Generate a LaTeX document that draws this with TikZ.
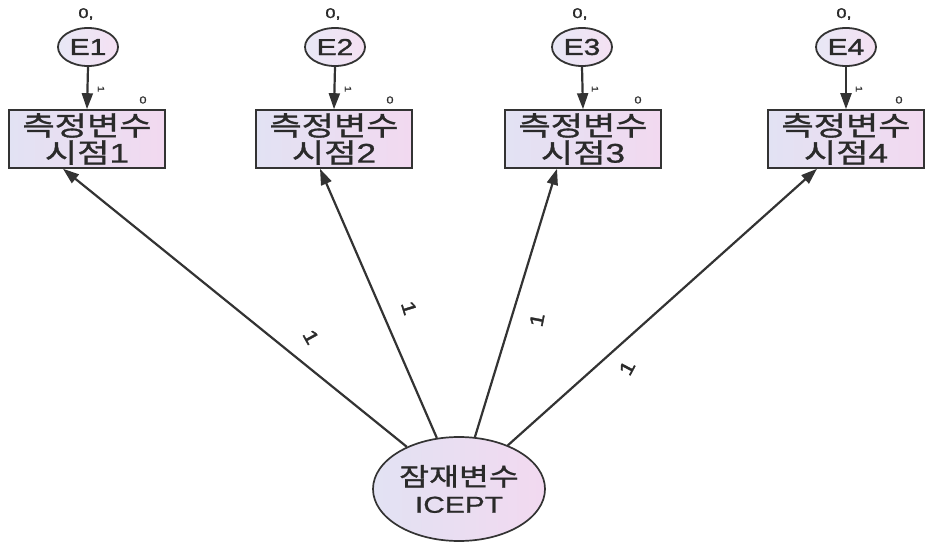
\documentclass[tikz,border=0pt]{standalone}
\usepackage{fontspec}
\usetikzlibrary{arrows.meta,shapes.geometric}
\newfontfamily\krfont{Noto Sans CJK KR}[FakeStretch=1.3,FakeBold=1.2]
\newfontfamily\latfont{Liberation Sans}[FakeStretch=1.3,FakeBold=0.8]
\newfontfamily\latbold{Liberation Sans}[FakeStretch=1.3,FakeBold=1.6]
\definecolor{edgegray}{HTML}{333333}
\definecolor{ink}{HTML}{2A2A2A}
\definecolor{fillL}{HTML}{E2E2F3}
\definecolor{fillR}{HTML}{F2D9F0}
\begin{document}
\begin{tikzpicture}[x=1pt,y=-1pt,
  obsbox/.style={rectangle, draw=edgegray, line width=1.6pt,
    left color=fillL, right color=fillR,
    minimum width=156pt, minimum height=58pt, inner sep=0pt,
    align=center, text=ink, font=\fontsize{27}{27}\selectfont\krfont},
  errnode/.style={ellipse, draw=edgegray, line width=1.8pt,
    left color=fillL!80!white, right color=fillR!80!white,
    minimum width=60pt, minimum height=38pt, inner sep=0pt,
    text=ink, font=\fontsize{23}{23}\selectfont\latbold},
  latnode/.style={ellipse, draw=edgegray, line width=1.7pt,
    left color=fillL, right color=fillR,
    minimum width=172pt, minimum height=104pt, inner sep=0pt,
    align=center, text=ink, font=\fontsize{25}{27}\selectfont},
  regpath/.style={draw=edgegray, line width=2.2pt,
    -{Triangle[length=16pt,width=11pt]}},
  meanlab/.style={text=ink, inner sep=0pt, font=\fontsize{14}{14}\selectfont\latbold},
  varlab/.style={text=ink, inner sep=0pt, font=\fontsize{10}{10}\selectfont\latfont},
  wlab/.style={text=ink, inner sep=0pt, font=\fontsize{19}{19}\selectfont\latbold},
  elab/.style={text=ink, inner sep=0pt, font=\fontsize{9}{9}\selectfont\latfont, rotate=-90}
]
\useasboundingbox (0,0) rectangle (926,545);

% observed variables
\node[obsbox] (b1) at (87,139)  {측정변수\\시점{\latfont 1}};
\node[obsbox] (b2) at (334,139) {측정변수\\시점{\latfont 2}};
\node[obsbox] (b3) at (583,139) {측정변수\\시점{\latfont 3}};
\node[obsbox] (b4) at (846,139) {측정변수\\시점{\latfont 4}};

% error terms
\node[errnode] (e1) at (88,47)  {E1};
\node[errnode] (e2) at (335,47) {E2};
\node[errnode] (e3) at (582,47) {E3};
\node[errnode] (e4) at (846,47) {E4};

% means of the error terms
\node[meanlab] (m1) at (86,14)  {0,};
\node[meanlab] (m2) at (333,14) {0,};
\node[meanlab] (m3) at (580,14) {0,};
\node[meanlab] (m4) at (844,14) {0,};

% intercepts of the observed variables
\node[varlab] (i1) at (143,100) {0};
\node[varlab] (i2) at (390,100) {0};
\node[varlab] (i3) at (638,100) {0};
\node[varlab] (i4) at (899,100) {0};

% latent intercept
\node[latnode] (lat) at (459,489)
  {{\krfont 잠재변수}\\{\fontsize{23}{24}\selectfont\latfont ICEPT}};

% error paths
\foreach \i in {1,2,3,4} {
  \draw[regpath] (e\i.south) -- (b\i.north);
}
\node[elab] (f1) at (101,89) {1};
\node[elab] (f2) at (348,89) {1};
\node[elab] (f3) at (595,89) {1};
\node[elab] (f4) at (859,89) {1};

% loadings from the latent intercept
\coordinate (t1) at ([xshift=-24pt]b1.south);
\coordinate (t2) at ([xshift=-14pt]b2.south);
\coordinate (t3) at ([xshift=-26pt]b3.south);
\coordinate (t4) at ([xshift=-29pt]b4.south);
\foreach \i in {1,2,3,4} {
  \draw[regpath] (lat) -- (t\i);
}
\node[wlab, rotate=-61] (w1) at (311,337) {1};
\node[wlab, rotate=-73] (w2) at (409,308) {1};
\node[wlab, rotate=79]  (w3) at (537,320) {1};
\node[wlab, rotate=62]  (w4) at (627,368) {1};
\end{tikzpicture}
\end{document}
